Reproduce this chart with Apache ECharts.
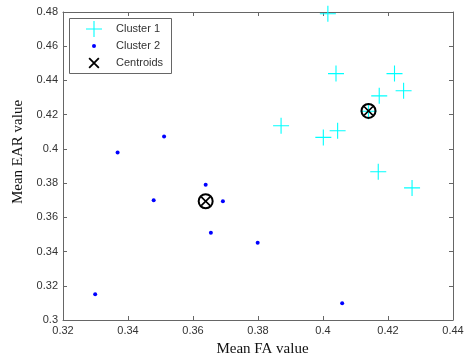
<!DOCTYPE html>
<html>
<head>
<meta charset="utf-8">
<script src="https://cdn.jsdelivr.net/npm/echarts@6/dist/echarts.min.js"></script>
<style>
  html, body { margin: 0; padding: 0; background: #fff; }
  #chart { width: 465px; height: 357px; }
</style>
</head>
<body>
<div id="chart"></div>
<script>
// k-means result: Mean FA value vs Mean EAR value
const cluster1 = [
  [0.4015, 0.479], [0.404, 0.444], [0.422, 0.444], [0.4248, 0.434],
  [0.4173, 0.431], [0.4140, 0.422], [0.3871, 0.4135], [0.4045, 0.4106],
  [0.4001, 0.4067], [0.417, 0.3866], [0.4274, 0.3772]
];
const cluster2 = [
  [0.3511, 0.4073], [0.3368, 0.3979], [0.3639, 0.379], [0.3479, 0.370],
  [0.3692, 0.3694], [0.3655, 0.351], [0.3799, 0.3452], [0.3299, 0.3151],
  [0.4059, 0.3098]
];
const centroids = [[0.414, 0.4222], [0.3639, 0.3694]];

const xRange = { min: 0.32, max: 0.44, interval: 0.02 };
const yRange = { min: 0.3, max: 0.48, interval: 0.02 };

const frameColor = '#666';
const labelColor = '#333';
const crossPath = 'path://M7.45,0h1.1v16h-1.1z M0,7.45h16v1.1h-16z';
const xPath = 'path://M0,1.4L1.4,0L12,10.6L10.6,12Z M10.6,0L12,1.4L1.4,12L0,10.6Z';

const chart = echarts.init(document.getElementById('chart'));

const baseAxis = {
  axisLine: { lineStyle: { color: frameColor, width: 1 } },
  axisTick: { inside: true, length: 4, lineStyle: { color: frameColor } },
  splitLine: { show: false },
  axisLabel: { color: labelColor, fontSize: 11, fontFamily: 'Liberation Sans, Arial, sans-serif', margin: 5 }
};

const legendText = (padLeft) => ({
  color: labelColor, fontSize: 11, lineHeight: 14,
  fontFamily: 'Liberation Sans, Arial, sans-serif', padding: [0, 0, 0, padLeft]
});

const option = {
  animation: false,
  grid: { left: 63, right: 12, top: 12, bottom: 37, outerBoundsMode: 'none' },
  xAxis: [
    Object.assign({}, baseAxis, xRange, {
      type: 'value', position: 'bottom',
      name: 'Mean FA value', nameLocation: 'middle', nameGap: 22,
      nameTextStyle: { color: '#111', fontSize: 15, fontFamily: 'Liberation Serif, Times New Roman, serif', padding: [0, 0, 0, 9] }
    }),
    Object.assign({}, baseAxis, xRange, {
      type: 'value', position: 'top', axisLabel: { show: false }
    })
  ],
  yAxis: [
    Object.assign({}, baseAxis, yRange, {
      type: 'value', position: 'left',
      name: 'Mean EAR value', nameLocation: 'middle', nameGap: 36,
      nameTextStyle: { color: '#111', fontSize: 15, fontFamily: 'Liberation Serif, Times New Roman, serif', padding: [0, 0, 0, 28] }
    }),
    Object.assign({}, baseAxis, yRange, {
      type: 'value', position: 'right', axisLabel: { show: false }
    })
  ],
  graphic: [{
    type: 'rect', left: 69, top: 18, z: 1,
    shape: { width: 102, height: 55 },
    style: { fill: '#fff', stroke: frameColor, lineWidth: 1 }
  }],
  legend: [
    { data: [{ name: 'Cluster 1', icon: crossPath }], left: 86, top: 21, padding: 0,
      itemWidth: 16, itemHeight: 16, textStyle: legendText(9), selectedMode: false },
    { data: [{ name: 'Cluster 2', icon: 'circle' }], left: 92, top: 39, padding: 0,
      itemWidth: 4, itemHeight: 4, textStyle: legendText(15), selectedMode: false },
    { data: [{ name: 'Centroids', icon: xPath }], left: 88.5, top: 56, padding: 0,
      itemWidth: 11, itemHeight: 11, textStyle: legendText(11.5), selectedMode: false }
  ],
  series: [
    {
      name: 'Cluster 1', type: 'scatter', data: cluster1,
      symbol: crossPath, symbolSize: 16,
      itemStyle: { color: '#00ffff', opacity: 1 }
    },
    {
      name: 'Cluster 2', type: 'scatter', data: cluster2,
      symbol: 'circle', symbolSize: 4,
      itemStyle: { color: '#0000ff', opacity: 1 }
    },
    {
      name: 'Centroid ring', type: 'scatter', data: centroids,
      symbol: 'circle', symbolSize: 14, z: 3,
      itemStyle: { color: 'transparent', borderColor: '#000', borderWidth: 2, opacity: 1 }
    },
    {
      name: 'Centroids', type: 'scatter', data: centroids,
      symbol: xPath, symbolSize: 10, z: 4,
      itemStyle: { color: '#000', opacity: 1 }
    }
  ]
};

chart.setOption(option);
</script>
</body>
</html>
